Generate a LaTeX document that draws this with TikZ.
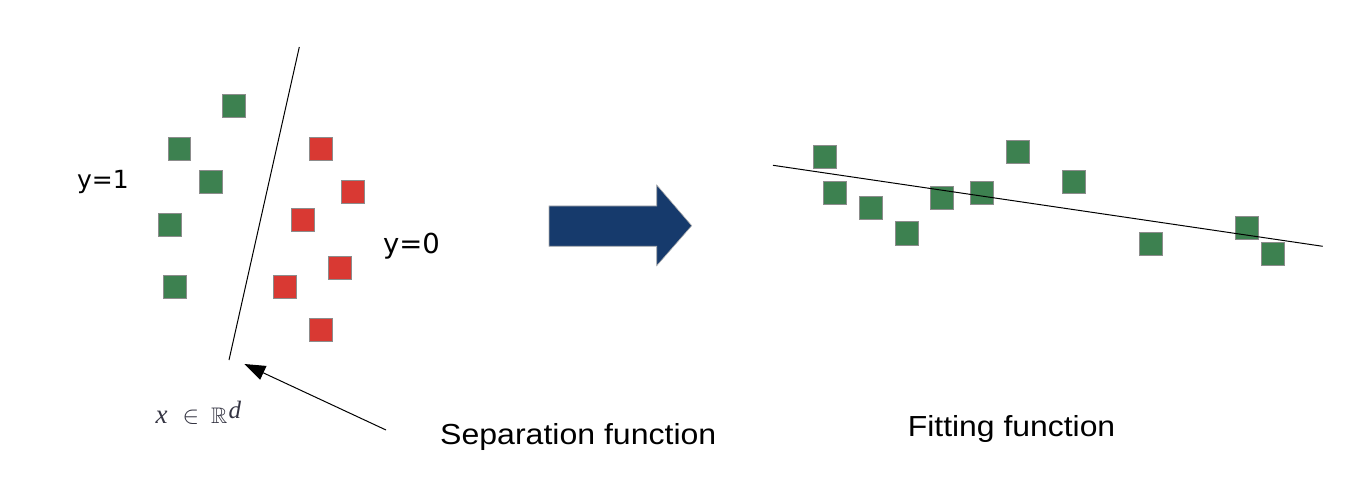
\documentclass[tikz,border=0pt]{standalone}
\usepackage{fontspec}
\usepackage{amssymb}
\setmainfont{Liberation Sans}
\newfontfamily\dejavu{DejaVu Sans}
\newfontfamily\lserif{Liberation Serif}
\usetikzlibrary{arrows.meta}
\definecolor{ptgreen}{RGB}{61,129,80}
\definecolor{ptred}{RGB}{217,57,51}
\definecolor{ptborder}{RGB}{140,140,140}
\definecolor{navy}{RGB}{22,58,108}
\definecolor{mathgray}{RGB}{52,52,66}
\newcommand{\xinrd}{%
  \rlap{\fontsize{27}{30}\selectfont\lserif\itshape x}\hspace{27pt}%
  \rlap{\fontsize{24}{30}\selectfont$\in$}\hspace{28.6pt}%
  \rlap{\fontsize{22.5}{30}\selectfont$\mathbb{R}$}\hspace{17.5pt}%
  \raisebox{5pt}{\fontsize{25}{30}\selectfont\lserif\itshape d}}
\tikzset{
  sq/.style={draw=ptborder, line width=0.9pt, minimum width=22.8pt, minimum height=23.2pt, inner sep=0pt, outer sep=0pt},
  gsq/.style={sq, fill=ptgreen},
  rsq/.style={sq, fill=ptred},
  lbl/.style={anchor=base west, inner sep=0pt, outer sep=0pt},
  thinline/.style={line width=1pt, black}
}
\begin{document}
\begin{tikzpicture}[x=1pt,y=-1pt]
\useasboundingbox (0,0) rectangle (1348,478);
% left: separation
\node[gsq] (g1) at (234,106) {};
\node[gsq] (g2) at (179.5,149) {};
\node[gsq] (g3) at (211,182) {};
\node[gsq] (g4) at (170,225) {};
\node[gsq] (g5) at (175,287) {};
\node[rsq] (r1) at (321,149) {};
\node[rsq] (r2) at (353,192) {};
\node[rsq] (r3) at (303,220) {};
\node[rsq] (r4) at (340,268) {};
\node[rsq] (r5) at (285,287) {};
\node[rsq] (r6) at (321,330) {};
\coordinate (septop) at (299.3,47);
\coordinate (sepbot) at (229,360);
\draw[thinline] (septop) -- (sepbot);
\node[lbl, font=\dejavu\fontsize{25}{30}\selectfont] (y1) at (77,188.3) {y=1};
\node[lbl, font=\dejavu\fontsize{27.5}{33}\selectfont] (y0) at (383,253.3) {y=0};
\node[lbl, text=mathgray] (xr) at (155.5,423.3) {\xinrd};
\coordinate (atail) at (386,430);
\coordinate (atip) at (244.3,364);
\draw[line width=1pt, -{Triangle[length=21pt,width=15pt]}] (atail) -- (atip);
\node[lbl, font=\fontsize{29}{35}\selectfont] (sepf) at (440.2,444.3) {\scalebox{1.105}[1]{Separation function}};
% big arrow
\draw[fill=navy, draw=ptborder!70, line width=0.6pt] (549,206) -- (656.7,206) -- (656.7,185) -- (691.7,225.7) -- (656.7,265.7) -- (656.7,246.3) -- (549,246.3) -- cycle;
% right: fitting
\node[gsq] (f1) at (825,157) {};
\node[gsq] (f2) at (835.3,192.7) {};
\node[gsq] (f3) at (871,208) {};
\node[gsq] (f4) at (906.7,233.5) {};
\node[gsq] (f5) at (942.3,197.8) {};
\node[gsq] (f6) at (982.3,192.7) {};
\node[gsq] (f7) at (1018,152) {};
\node[gsq] (f8) at (1074,182.3) {};
\node[gsq] (f9) at (1150.7,243.7) {};
\node[gsq] (f10) at (1247,228.2) {};
\node[gsq] (f11) at (1272.7,253.7) {};
\coordinate (fitl) at (773,165.3);
\coordinate (fitr) at (1322.7,246.3);
\draw[thinline] (fitl) -- (fitr);
\node[lbl, font=\fontsize{29}{35}\selectfont] (fitf) at (907.8,436.7) {\scalebox{1.1}[1]{Fitting function}};
\end{tikzpicture}
\end{document}
